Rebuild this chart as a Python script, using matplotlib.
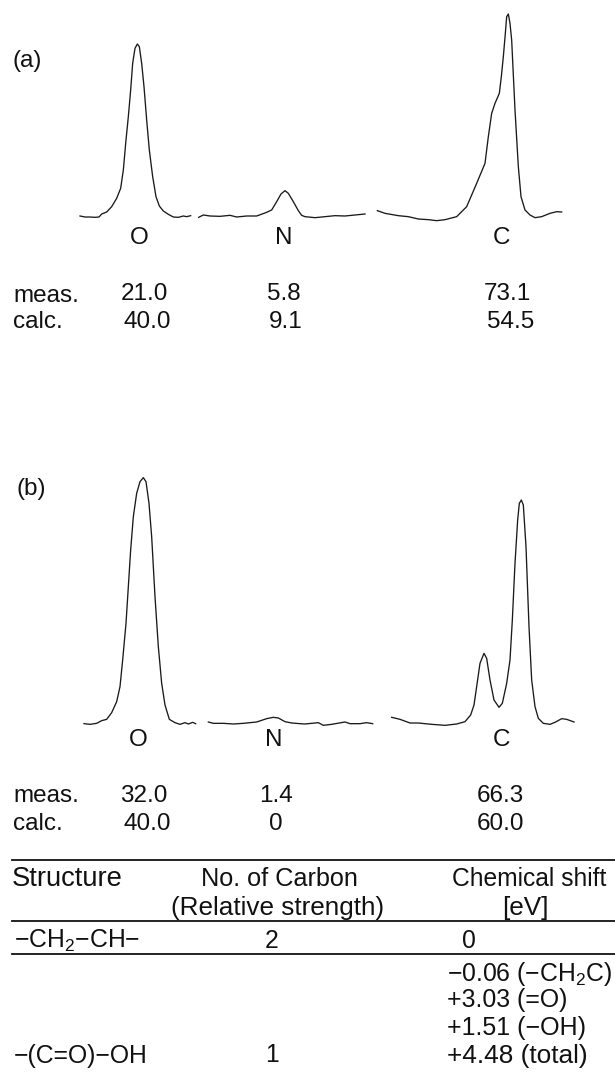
import matplotlib
matplotlib.use("Agg")
import matplotlib.pyplot as plt

plt.rcParams['font.family'] = ['Liberation Sans', 'DejaVu Sans']
plt.rcParams['mathtext.default'] = 'regular'

a_o_x = [240,255,270,285,297,305,320,335,350,362,370,378,385,392,398,405,412,418,425,432,440,448,458,468,478,490,505,520,535,550,560,572]
a_o_y = [648,651,651,652,651,642,636,620,595,565,510,420,350,270,190,145,132,140,190,260,360,450,530,590,618,633,643,651,652,648,650,647]
a_n_x = [596,610,630,660,690,710,740,770,800,815,830,843,855,865,880,895,905,915,945,975,1005,1035,1065,1095]
a_n_y = [652,645,648,649,646,651,648,648,637,630,605,582,572,580,605,632,646,650,653,650,647,648,645,642]
a_c_x = [1132,1155,1195,1225,1255,1285,1310,1335,1370,1385,1400,1430,1455,1465,1475,1485,1498,1504,1510,1516,1520,1525,1530,1535,1545,1555,1563,1575,1590,1605,1625,1650,1670,1685]
a_c_y = [632,640,647,650,657,659,662,659,650,635,620,550,490,410,340,310,280,230,170,100,50,42,70,120,330,500,590,630,645,653,650,640,635,636]

b_o_x = [252,270,290,305,320,335,350,360,368,378,385,392,400,410,420,430,438,447,455,465,475,485,495,508,525,540,555,565,578,587]
b_o_y = [851,853,850,842,838,818,785,740,660,550,440,330,230,160,125,113,125,190,290,470,620,730,795,838,848,853,848,852,847,851]
b_n_x = [625,640,670,700,730,770,800,820,835,855,875,900,915,955,970,995,1035,1050,1080,1100,1118]
b_n_y = [846,850,850,852,850,846,836,832,834,845,849,851,852,848,856,853,846,851,851,848,851]
b_c_x = [1175,1200,1230,1255,1295,1335,1370,1395,1412,1422,1430,1440,1452,1460,1470,1482,1497,1507,1520,1530,1537,1545,1553,1558,1564,1570,1578,1587,1595,1605,1615,1630,1650,1665,1685,1700,1722]
b_c_y = [832,838,849,849,853,856,852,845,825,795,740,670,640,655,720,780,802,790,730,660,540,370,240,190,180,195,320,560,720,800,835,850,853,847,836,838,846]

elements = ['O', 'N', 'C']
a_meas = ['21.0', '5.8', '73.1']
a_calc = ['40.0', '9.1', '54.5']
b_meas = ['32.0', '1.4', '66.3']
b_calc = ['40.0', '0', '60.0']

header_1 = ['Structure', 'No. of Carbon', 'Chemical shift']
header_2 = ['(Relative strength)', '[eV]']
row_1 = ['\u2212CH$_2$\u2212CH\u2212', '2', '0']
row_2 = ['\u2212(C=O)\u2212OH', '1']
shifts = ['\u22120.06 (\u2212CH$_2$C)', '+3.03 (=O)', '+1.51 (\u2212OH)', '+4.48 (total)']

fig = plt.figure(figsize=(6.15, 10.72), dpi=100)

# one axes for each spectrum panel, one over everything for text (pixel units)
ax_a = fig.add_axes([0, 0, 1, 1])
ax_a.set_xlim(0, 1845)
ax_a.set_ylim(3216, 0)
ax_a.axis('off')
for x, y in [(a_o_x, a_o_y), (a_n_x, a_n_y), (a_c_x, a_c_y)]:
    ax_a.plot(x, y, color='#1a1a1a', lw=0.95)

ax_b = fig.add_axes([0, 0, 1, 1])
ax_b.set_xlim(0, 1845)
ax_b.set_ylim(1896, -1320)
ax_b.axis('off')
for x, y in [(b_o_x, b_o_y), (b_n_x, b_n_y), (b_c_x, b_c_y)]:
    ax_b.plot(x, y, color='#1a1a1a', lw=0.95)

ax = fig.add_axes([0, 0, 1, 1])
ax.set_xlim(0, 615)
ax.set_ylim(1072, 0)
ax.axis('off')

fs = 17.5


def put(x, y, s, ha='left', size=fs):
    ax.text(x, y + 1.5, s, ha=ha, va='center', fontsize=size, color='#111111')


# panel (a)
put(13, 59, '(a)')
for x, s in zip([139, 284, 502], elements):
    put(x, 237, s, ha='center')
put(13, 294, 'meas.')
put(13, 321, 'calc.')
for x, s in zip([144, 284, 507], a_meas):
    put(x, 293, s, ha='center')
for x, s in zip([147, 286, 511], a_calc):
    put(x, 320, s, ha='center')

# panel (b)
put(16, 487, '(b)')
for x, s in zip([138, 274, 501], elements):
    put(x, 739, s, ha='center')
put(13, 795, 'meas.')
put(13, 823, 'calc.')
for x, s in zip([144, 276, 500], b_meas):
    put(x, 794, s, ha='center')
for x, s in zip([147, 276, 500], b_calc):
    put(x, 822, s, ha='center')

# table
ax.plot([12, 615], [860, 860], color='#111111', lw=1.3)
ax.plot([12, 615], [921, 921], color='#111111', lw=1.3)
ax.plot([12, 615], [954, 954], color='#111111', lw=1.3)

put(12, 877, header_1[0], size=19.7)
put(279, 877, header_1[1], ha='center', size=18.2)
put(452, 877, header_1[2], size=17.7)
put(278, 906, header_2[0], ha='center', size=18.8)
put(525, 906, header_2[1], ha='center', size=18.8)

put(14, 939, row_1[0], size=17.8)
put(272, 939, row_1[1], ha='center', size=17.8)
put(469, 939, row_1[2], ha='center', size=17.8)

for y, s, size in zip([972, 999, 1027, 1055], shifts, [17.8, 17.9, 18.0, 18.9]):
    put(447, y, s, size=size)
put(14, 1054, row_2[0], size=17.8)
put(272, 1054, row_2[1], ha='center', size=17.8)

fig.savefig('out.png', dpi=100)
